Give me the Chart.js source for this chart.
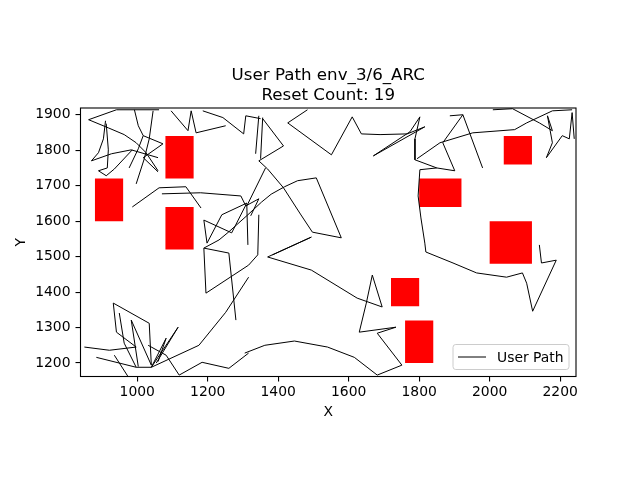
<!DOCTYPE html>
<html><head><meta charset="utf-8">
<script src="https://cdn.jsdelivr.net/npm/chart.js@4"></script>
<style>html,body{margin:0;padding:0;background:#fff}</style>
</head><body>
<canvas id="c" width="640" height="480"></canvas>
<script>
const titleLines = ['User Path env_3/6_ARC', 'Reset Count: 19'];
const xLabel = 'X';
const yLabel = 'Y';
const seriesLabel = 'User Path';
const xTicks = [1000, 1200, 1400, 1600, 1800, 2000, 2200];
const yTicks = [1200, 1300, 1400, 1500, 1600, 1700, 1800, 1900];

const obstacleX0 = [880, 1080, 1080, 1800, 2040, 2000, 1720, 1760];
const obstacleX1 = [960, 1160, 1160, 1920, 2120, 2120, 1800, 1840];
const obstacleY0 = [1600, 1720, 1520, 1640, 1760, 1480, 1360, 1200];
const obstacleY1 = [1720, 1840, 1640, 1720, 1840, 1600, 1440, 1320];

const pathX = [
  1062, 941, 862, 918, 963, 997, 1025, 1059, null,
  910, 904, 890, 870, 927, 983, 1059, null,
  912, 918, 915, 890, 912, 935, 986, null,
  992, 1003, 1017, 1003, 977, null,
  1017, 1073, 1017, 1059, null,
  1045, 1034, 1020, 997, null,
  1096, 1144, 1153, 1167, 1251, null,
  1186, 1243, 1302, 1308, 1350, null,
  1345, 1336, null,
  1356, 1350, null,
  1356, 1415, 1345, 1370, 1415, 1463, 1497, 1579, 1508, 1455, 1418, 1380, 1353, 1314, 1260, 1232, 1189, null,
  1364, 1311, 1314, null,
  1483, 1427, 1551, 1610, 1636, 1689, 1766, 1816, 1670, 1774, 1802, 1788, 1788, 1850, 1802, 1797, 1805, 1816, 1819, 1896, 1963, 2048, 2093, 2105, 2122, 2189, 2147, 2141, null,
  1794, 1859, 1952, 2071, 2105, 2178, 2234, null,
  1887, 1924, 1980, null,
  1924, 1867, 1901, 1850, null,
  2009, 2065, 2141, 2178, 2164, 2178, 2161, 2206, 2226, 2234, 2240, null,
  986, 1062, 1138, 1181, null,
  1070, 1180, 1294, 1308, 1345, 1322, null,
  1189, 1195, 1316, 1342, 1345, null,
  1189, 1260, 1280, null,
  1198, 1189, 1268, 1311, 1240, 1198, null,
  932, 1034, 1040, null,
  932, 941, 997, null,
  949, 963, 997, null,
  983, 1040, null,
  983, 1003, null,
  850, 921, 997, null,
  884, 997, 1040, null,
  1040, 1116, 1054, null,
  1040, 1082, 1059, null,
  1040, 1175, 1251, 1316, null,
  1031, 1082, 1119, null,
  935, 975, null,
  1119, 1184, 1260, 1316, null,
  1305, 1362, 1446, 1540, 1616, 1681, 1751, 1681, 1734, 1630, 1650, 1667, 1695, 1624, 1494, 1370, null,
  1370, 1494, 1384
];
const pathY = [
  1914, 1914, 1886, 1863, 1844, 1821, 1793, 1742, null,
  1883, 1832, 1793, 1770, 1790, 1801, 1779, null,
  1875, 1801, 1750, 1742, 1728, 1747, 1801, null,
  1914, 1869, 1841, 1804, 1750, null,
  1841, 1818, 1779, 1739, null,
  1911, 1832, 1776, 1705, null,
  1911, 1855, 1911, 1849, 1869, null,
  1911, 1892, 1846, 1897, 1889, null,
  1897, 1790, null,
  1892, 1776, null,
  1889, 1812, 1770, 1747, 1694, 1620, 1569, 1553, 1722, 1714, 1697, 1676, 1654, 1618, 1570, 1547, 1524, null,
  1750, 1643, 1533, null,
  1914, 1877, 1787, 1894, 1846, 1844, 1846, 1866, 1784, 1852, 1894, 1832, 1773, 1750, 1745, 1671, 1609, 1538, 1513, 1482, 1454, 1442, 1454, 1425, 1346, 1490, 1482, 1533, null,
  1776, 1821, 1849, 1858, 1877, 1911, 1914, null,
  1897, 1900, 1750, null,
  1900, 1821, 1742, 1750, null,
  1914, 1917, 1877, 1855, 1897, 1821, 1779, 1841, 1832, 1906, 1832, null,
  1640, 1694, 1697, 1637, null,
  1677, 1680, 1671, 1643, 1663, 1615, null,
  1524, 1397, 1476, 1505, 1618, null,
  1524, 1510, 1321, null,
  1538, 1603, 1567, 1651, 1618, 1538, null,
  1369, 1312, 1194, null,
  1369, 1287, 1245, null,
  1341, 1256, 1188, null,
  1321, 1194, null,
  1321, 1190, null,
  1245, 1236, 1245, null,
  1216, 1188, 1188, null,
  1188, 1301, 1200, null,
  1188, 1270, 1204, null,
  1188, 1250, 1343, 1442, null,
  1250, 1222, 1166, null,
  1222, 1160, null,
  1166, 1202, 1185, 1228, null,
  1228, 1250, 1262, 1245, 1216, 1166, 1194, 1284, 1301, 1287, 1369, 1448, 1358, 1383, 1462, 1499, null,
  1499, 1555, 1505
];

const FONT = "'DejaVu Sans', 'Liberation Sans', sans-serif";

const pathData = pathX.map((x, i) => ({ x: x, y: pathY[i] }));

const rectDatasets = obstacleX0.map((x0, i) => ({
  label: 'obstacle' + i,
  data: [
    { x: x0, y: obstacleY0[i] },
    { x: obstacleX1[i], y: obstacleY0[i] },
    { x: obstacleX1[i], y: obstacleY1[i] },
    { x: x0, y: obstacleY1[i] },
    { x: x0, y: obstacleY0[i] }
  ],
  showLine: true,
  fill: 'shape',
  backgroundColor: '#ff0000',
  borderColor: 'rgba(255,0,0,0)',
  borderWidth: 1,
  pointRadius: 0,
  tension: 0,
  order: 2
}));

const decor = {
  id: 'decor',
  afterDatasetsDraw(chart) {
    const { ctx, chartArea: a } = chart;
    ctx.save();
    ctx.strokeStyle = '#000';
    ctx.lineWidth = 1.1;
    ctx.strokeRect(a.left, a.top, a.right - a.left, a.bottom - a.top);
    ctx.restore();
  },
  afterDraw(chart) {
    const { ctx, chartArea: a } = chart;
    const cx = (a.left + a.right) / 2;
    ctx.save();
    ctx.fillStyle = '#000';
    ctx.font = '16.7px ' + FONT;
    ctx.textAlign = 'center';
    ctx.textBaseline = 'alphabetic';
    ctx.fillText(titleLines[0], cx, a.top - 8.3 - 20);
    ctx.fillText(titleLines[1], cx, a.top - 8.3);
    const w = 116, h = 25;
    const rx = a.right - 7 - w, ry = a.bottom - 7 - h;
    const r = 2.8;
    ctx.beginPath();
    ctx.moveTo(rx + r, ry);
    ctx.lineTo(rx + w - r, ry);
    ctx.arcTo(rx + w, ry, rx + w, ry + r, r);
    ctx.lineTo(rx + w, ry + h - r);
    ctx.arcTo(rx + w, ry + h, rx + w - r, ry + h, r);
    ctx.lineTo(rx + r, ry + h);
    ctx.arcTo(rx, ry + h, rx, ry + h - r, r);
    ctx.lineTo(rx, ry + r);
    ctx.arcTo(rx, ry, rx + r, ry, r);
    ctx.closePath();
    ctx.fillStyle = 'rgba(255,255,255,0.8)';
    ctx.fill();
    ctx.strokeStyle = '#cccccc';
    ctx.lineWidth = 1;
    ctx.stroke();
    const ly = ry + h / 2;
    ctx.beginPath();
    ctx.moveTo(rx + 5, ly);
    ctx.lineTo(rx + 33, ly);
    ctx.strokeStyle = '#000';
    ctx.lineWidth = 1;
    ctx.stroke();
    ctx.fillStyle = '#000';
    ctx.font = '13.9px ' + FONT;
    ctx.textAlign = 'left';
    ctx.textBaseline = 'middle';
    ctx.fillText(seriesLabel, rx + 44, ly + 1);
    ctx.restore();
  }
};

const tickFont = { family: FONT, size: 13.9, lineHeight: 1.2 };
const plainLabel = v => String(v);

new Chart(document.getElementById('c'), {
  type: 'scatter',
  data: {
    datasets: [
      {
        label: seriesLabel,
        data: pathData,
        showLine: true,
        spanGaps: false,
        fill: false,
        borderColor: '#000000',
        backgroundColor: '#000000',
        borderWidth: 1,
        pointRadius: 0,
        tension: 0,
        order: 1
      },
      ...rectDatasets
    ]
  },
  options: {
    responsive: false,
    animation: false,
    events: [],
    layout: { padding: { left: 0, top: 108, right: 64, bottom: 58.5 } },
    plugins: {
      legend: { display: false },
      tooltip: { enabled: false },
      title: { display: false }
    },
    scales: {
      x: {
        type: 'linear',
        position: 'bottom',
        min: 839,
        max: 2245,
        afterBuildTicks: s => { s.ticks = xTicks.map(v => ({ value: v })); },
        afterFit: s => { s.height = 45; s.paddingLeft = 0; s.paddingRight = 0; },
        ticks: { font: tickFont, color: '#000', padding: 3, maxRotation: 0, autoSkip: false, callback: plainLabel },
        grid: { display: true, drawOnChartArea: false, drawTicks: true, tickLength: 5, color: '#000', lineWidth: 1.1 },
        border: { display: false },
        title: { display: true, text: xLabel, color: '#000', font: { family: FONT, size: 13.9, lineHeight: 1 }, padding: { top: 0, bottom: 2.5 } }
      },
      y: {
        type: 'linear',
        position: 'left',
        min: 1162,
        max: 1919,
        afterBuildTicks: s => { s.ticks = yTicks.map(v => ({ value: v })); },
        afterFit: s => { s.width = 80.5; s.paddingTop = 0; s.paddingBottom = 0; },
        ticks: { font: tickFont, color: '#000', padding: 5, autoSkip: false, callback: plainLabel },
        grid: { display: true, drawOnChartArea: false, drawTicks: true, tickLength: 5, color: '#000', lineWidth: 1.1 },
        border: { display: false },
        title: { display: true, text: yLabel, color: '#000', font: { family: FONT, size: 13.9, lineHeight: 1 }, padding: { top: 14, bottom: 0 } }
      }
    }
  },
  plugins: [decor]
});
</script>
</body></html>
